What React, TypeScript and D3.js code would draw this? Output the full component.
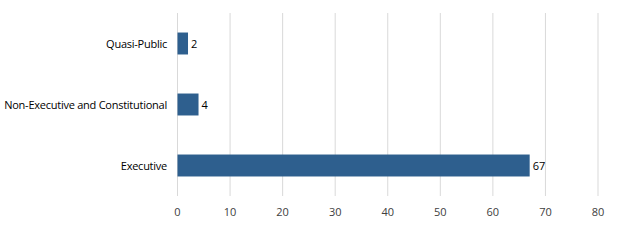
import React from "react";
import * as d3 from "d3";

const categories = ["Quasi-Public", "Non-Executive and Constitutional", "Executive"];
const values = [2, 4, 67];
const xTicks = [0, 10, 20, 30, 40, 50, 60, 70, 80];

const W = 619;
const H = 240;
const left = 177.5;
const right = 598;
const top = 13;
const bottom = 196;
const font = "'Open Sans', 'Liberation Sans', sans-serif";
const barColor = "#2E5F8E";

export default function App() {
  const x = d3.scaleLinear().domain([0, 80]).range([left, right]);
  const y = d3.scaleBand<string>().domain(categories).range([top, bottom]).paddingInner(0.64).paddingOuter(0.32);
  return (
    <svg width={W} height={H} style={{ position: "absolute", left: 0, top: 0, background: "#fff" }}>
      {xTicks.map((t) => (
        <line key={"g" + t} x1={x(t)} x2={x(t)} y1={top} y2={bottom} stroke="#D9D9D9" strokeWidth={1} />
      ))}
      {xTicks.map((t) => (
        <text key={"t" + t} x={x(t)} y={216} textAnchor="middle" fontFamily={font} fontSize={11} fill="#404040">
          {t}
        </text>
      ))}
      {categories.map((c, i) => (
        <g key={c}>
          <rect x={x(0)} y={y(c)!} width={x(values[i]) - x(0)} height={y.bandwidth()} fill={barColor} />
          <text x={x(values[i]) + 3} y={y(c)! + y.bandwidth() / 2 + 4} fontFamily={font} fontSize={11} fill="#000">
            {values[i]}
          </text>
          <text x={167} y={y(c)! + y.bandwidth() / 2 + 4} textAnchor="end" fontFamily={font} fontSize={11} fill="#000" letterSpacing={-0.25}>
            {c}
          </text>
        </g>
      ))}
    </svg>
  );
}
